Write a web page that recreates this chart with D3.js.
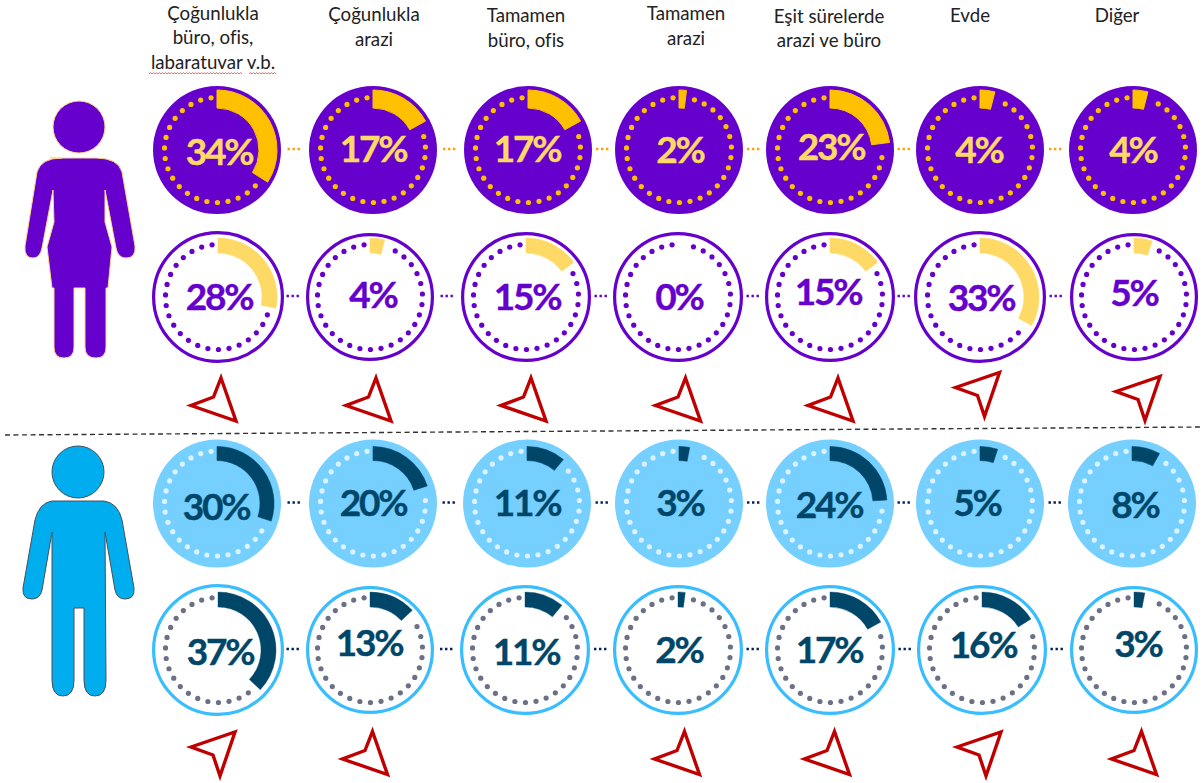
<!DOCTYPE html>
<html><head><meta charset="utf-8">
<script src="https://cdn.jsdelivr.net/npm/d3@7/dist/d3.min.js"></script>
<style>html,body{margin:0;padding:0;background:#fff;overflow:hidden}svg{display:block}</style>
</head><body><svg id="c" width="1203" height="783"></svg>
<script>
// ---------- data ----------
const headers = [
  ["Çoğunlukla","büro, ofis,","labaratuvar v.b."],
  ["Çoğunlukla","arazi"],
  ["Tamamen","büro, ofis"],
  ["Tamamen","arazi"],
  ["Eşit sürelerde","arazi ve büro"],
  ["Evde"],
  ["Diğer"]
];
const femaleTop    = [34,17,17,2,23,4,4];
const femaleBottom = [28,4,15,0,15,33,5];
const maleTop      = [30,20,11,3,24,5,8];
const maleBottom   = [37,13,11,2,17,16,3];

// ---------- layout ----------
const headerX = [213,374,526,686,829,970,1117];
const headerY = [[14,38,63],[15,40],[16,41],[14,39],[17,41],[16],[16]];
const rows = [
  {vals:femaleTop, cy:150, cx:[217,373,528,679,830,980,1133], r:[64,64,64,64,64,64,64], outer:60, inner:42, arcEdge:1, filled:true,
   fill:"#6600CC", stroke:"#6600CC", arc:"#FFC000", text:"#FFD966", dot:"#FFC000", link:"#FFA000",
   tx:[219,373,527,680,831,979,1133], ty:[152,149,149,150,147,150,150]},
  {vals:femaleBottom, cy:297, cx:[218,370,526,678,830,980,1134], r:[66,64,65,65,65,66,64], outer:59, inner:44, arcEdge:.6, filled:false,
   fill:"#fff", stroke:"#6600CC", arc:"#FFD966", text:"#6600CC", dot:"#6600CC", link:"#6600CC",
   tx:[219,373,527,679,828,981,1134], ty:[297,295,297,297,292,298,293]},
  {vals:maleTop, cy:503.5, cx:[217,373,527,679,830,980,1132], r:[64,64,64,64,64,64,64], outer:57, inner:43, arcEdge:.6, filled:true,
   fill:"#75CFFF", stroke:"#75CFFF", arc:"#004669", text:"#004669", dot:"#DDF2FF", link:"#002060",
   tx:[216,373,527,680,829,977,1135], ty:[507,503,503,503,505,503,505]},
  {vals:maleBottom, cy:650, cx:[218,370,525,678,830,982,1134], r:[66,64,65,65,65,65,64], outer:58, inner:43, arcEdge:.4, filled:false,
   fill:"#fff", stroke:"#38BDFF", arc:"#004669", text:"#004669", dot:"#6C7086", link:"#002060",
   tx:[220,369,526,679,829,983,1138], ty:[652,643,652,650,650,645,644]}
];
const arrowPairs = [
  {top:femaleTop, bottom:femaleBottom, x:[213.5,368.5,523.5,678,830.5,977.5,1138], yDown:399.5, yUp:[0,0,0,0,0,394.5,398.5]},
  {top:maleTop,   bottom:maleBottom,   x:[213,365,0,677,827,979,1134], yDown:753, yUp:[754,0,0,0,0,754,0]}
];
const arrowDown = [[7.5,-21.5],[22.5,21.5],[-22.5,6],[0,-2.5]];
const arrowUp   = [[-22,-7],[22,-22],[7,22],[0,1]];

const svg = d3.select("#c");
const angle = d3.scaleLinear().domain([0,100]).range([0,2*Math.PI]);
const FONT = "Lato, 'Open Sans', sans-serif";

// separator
svg.append("line").attr("x1",5).attr("y1",435).attr("x2",1203).attr("y2",427)
  .attr("stroke","#333").attr("stroke-width",1.4).attr("stroke-dasharray","5 3.5");

// headers
headers.forEach((lines,i)=>{
  svg.append("g").selectAll("text").data(lines).join("text")
    .attr("x",headerX[i]).attr("y",(d,j)=>headerY[i][j]+6)
    .attr("text-anchor","middle").attr("font-family",FONT).attr("font-size",18.7)
    .style("font-variant-ligatures","none")
    .attr("fill","#222").text(d=>d);
});
// spell-check squiggles
[[149,243],[249,276]].forEach(([a,b])=>{
  const p=d3.path(); p.moveTo(a,74);
  for(let x=a+1.5,k=0;x<=b;x+=1.5,k++) p.lineTo(x,k%2?74:72.6);
  svg.append("path").attr("d",p.toString()).attr("fill","none").attr("stroke","#E0483E").attr("stroke-width",.8);
});

// icons
const female = "M50,158 L96,158 Q118,158 122,172 L135,246 Q136,258 126,258 Q118,258 116,248 L105,190 L105,222 L112,247 L108,288 L106,288 L106,347 Q106,358 96,358 Q85,358 85,347 L85,288 L74,288 L74,347 Q74,358 64,358 Q54,358 54,347 L54,288 L52,288 L47,247 L54,222 L53,190 L42,248 Q40,258 33,258 Q24,258 25,246 L37,172 Q41,158 62,158 Z";
const male = "M52,501 L104,501 Q118,503 122,520 L134,588 Q135,599 125,599 Q117,599 115,590 L105,532 L106,680 Q106,696 95,696 Q84,696 84,680 L84,608 L74,608 L74,680 Q74,696 63,696 Q52,696 52,680 L52,532 L42,590 Q40,599 32,599 Q22,599 23,588 L35,520 Q39,503 52,501 Z";
svg.append("circle").attr("cx",79).attr("cy",127).attr("r",26).attr("fill","#6600CC").attr("stroke","#FFD58A");
svg.append("path").attr("d",female).attr("fill","#6600CC").attr("stroke","#FFD58A");
svg.append("circle").attr("cx",78).attr("cy",472).attr("r",26).attr("fill","#00AEEF").attr("stroke","#44505A");
svg.append("path").attr("d",male).attr("fill","#00AEEF").attr("stroke","#44505A");

// rings
const DOT_STEP = 11.6, DOT_START = -6.5;
rows.forEach(row=>{
  const g = svg.append("g");
  // links
  g.selectAll("line.link").data(row.cx.slice(0,-1)).join("line")
    .attr("x1",(d,i)=>(d+row.cx[i+1])/2-7.5).attr("x2",(d,i)=>(d+row.cx[i+1])/2+7.5)
    .attr("y1",row.cy-1).attr("y2",row.cy-1)
    .attr("stroke",row.link).attr("stroke-width",2.4).attr("stroke-dasharray","2.4 2.6");
  const cell = g.selectAll("g.cell").data(row.vals).join("g")
    .attr("transform",(d,i)=>`translate(${row.cx[i]},${row.cy})`);
  cell.append("circle").attr("r",(d,i)=>row.filled?row.r[i]:row.r[i]-1.6)
    .attr("fill",row.fill).attr("stroke",row.stroke).attr("stroke-width",row.filled?0:3.2);
  const arc = d3.arc().innerRadius(row.inner).outerRadius(row.outer).startAngle(0);
  cell.append("g").selectAll("circle").data(v=>{
      const end = angle(v)*180/Math.PI, out=[];
      for(let a=DOT_START; a>-360+end+8; a-=DOT_STEP) out.push(a);
      return out;
    }).join("circle")
    .attr("r",2.6).attr("fill",row.dot)
    .attr("cx",a=>52.5*Math.sin(a*Math.PI/180))
    .attr("cy",a=>-52.5*Math.cos(a*Math.PI/180));
  cell.filter(v=>v>0).append("path").attr("d",v=>arc({endAngle:angle(v)})).attr("fill",row.arc)
    .attr("stroke",row.arc).attr("stroke-width",row.arcEdge);
  g.selectAll("text").data(row.vals).join("text")
    .attr("x",(d,i)=>row.tx[i]).attr("y",(d,i)=>row.ty[i]+13)
    .attr("text-anchor","middle").attr("font-family",FONT).attr("font-weight",700)
    .attr("font-size",37).attr("letter-spacing",-2.2)
    .attr("stroke",row.text).attr("stroke-width",.4)
    .attr("fill",row.text).text(d=>d+"%");
});

// trend arrows
const outline = d3.line().curve(d3.curveLinearClosed);
arrowPairs.forEach(pair=>{
  const items = pair.top.map((t,i)=>({t,b:pair.bottom[i],i})).filter(d=>d.t!==d.b);
  svg.append("g").selectAll("path").data(items).join("path")
    .attr("d",d=>outline(d.b>d.t?arrowUp:arrowDown))
    .attr("transform",d=>`translate(${pair.x[d.i]},${d.b>d.t?pair.yUp[d.i]:pair.yDown})`)
    .attr("fill","#fff").attr("stroke","#C00000").attr("stroke-width",3.4).attr("stroke-linejoin","miter");
});
</script></body></html>
